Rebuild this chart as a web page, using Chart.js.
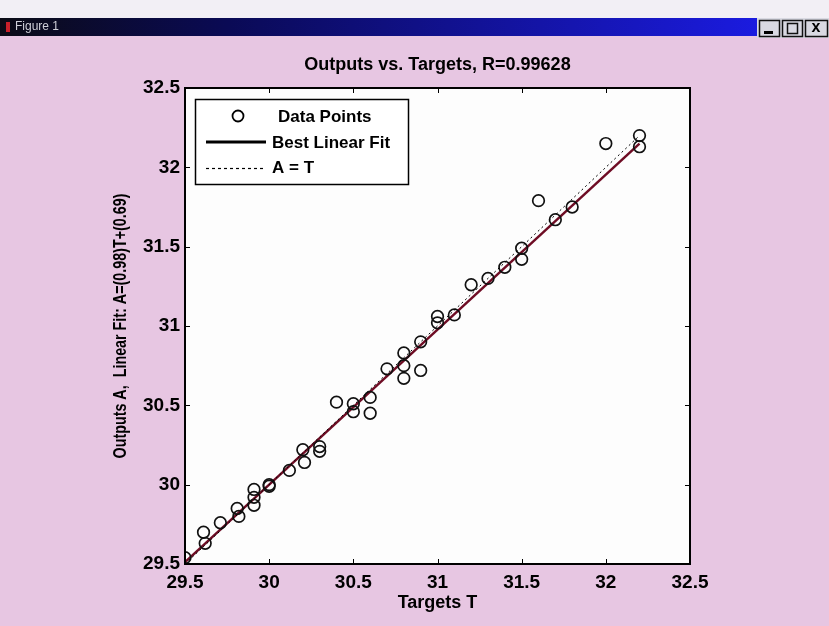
<!DOCTYPE html>
<html>
<head>
<meta charset="utf-8">
<title>Outputs vs. Targets</title>
<script src="https://cdn.jsdelivr.net/npm/chart.js@4.4.1/dist/chart.umd.min.js"></script>
<style>
  html, body { margin: 0; padding: 0; background: #e7c6e2; }
  #wrap { width: 829px; height: 626px; }
</style>
</head>
<body>
<div id="wrap"><canvas id="regChart" width="829" height="626"></canvas></div>
<script>
// Targets T and network outputs A (one pair per sample)
const targets = [29.50, 29.61, 29.62, 29.71, 29.81, 29.82, 29.91, 29.91, 29.91, 30.00,
                 30.00, 30.12, 30.20, 30.21, 30.30, 30.30, 30.40, 30.50, 30.50, 30.60,
                 30.60, 30.70, 30.80, 30.80, 30.80, 30.90, 30.90, 31.00, 31.00, 31.10,
                 31.20, 31.30, 31.40, 31.50, 31.50, 31.60, 31.70, 31.80, 32.00, 32.20,
                 32.20];
const outputs = [29.54, 29.70, 29.63, 29.76, 29.85, 29.80, 29.97, 29.92, 29.87, 29.99,
                 30.00, 30.09, 30.22, 30.14, 30.24, 30.21, 30.52, 30.51, 30.46, 30.55,
                 30.45, 30.73, 30.83, 30.75, 30.67, 30.72, 30.90, 31.06, 31.02, 31.07,
                 31.26, 31.30, 31.37, 31.49, 31.42, 31.79, 31.67, 31.75, 32.15, 32.20,
                 32.13];
const tickValues = [29.5, 30, 30.5, 31, 31.5, 32, 32.5];

// regression results
const fitSlope = 0.977;
const fitIntercept = 0.69;
const rValue = 0.99628;

const tMin = Math.min(...targets);
const tMax = Math.max(...targets);

const points = targets.map((t, i) => ({ x: t, y: outputs[i] }));
const fitLine = [tMin, tMax].map(t => ({ x: t, y: fitSlope * t + fitIntercept }));
const identityLine = [tMin, tMax].map(t => ({ x: t, y: t }));

const FONT = "'Liberation Sans', Arial, Helvetica, sans-serif";

// window chrome, axes box, inward ticks, legend and labels
const figureFrame = {
  id: 'figureFrame',
  beforeDraw(chart) {
    const ctx = chart.ctx;
    const a = chart.chartArea;
    const W = chart.width, H = chart.height;
    ctx.save();
    ctx.fillStyle = '#e7c6e2';
    ctx.fillRect(0, 0, W, H);

    // strip above the title bar
    ctx.fillStyle = '#f2eff5';
    ctx.fillRect(0, 0, W, 18);

    // title bar
    const g = ctx.createLinearGradient(0, 0, 760, 0);
    g.addColorStop(0, '#0b0b16');
    g.addColorStop(0.3, '#0a0a55');
    g.addColorStop(1, '#1b1be0');
    ctx.fillStyle = g;
    ctx.fillRect(0, 18, W, 18);
    ctx.fillStyle = '#c8202a';
    ctx.fillRect(6, 22, 4, 10);
    ctx.fillStyle = '#cfcfd8';
    ctx.font = '12px ' + FONT;
    ctx.textBaseline = 'middle';
    ctx.textAlign = 'left';
    ctx.fillText('Figure 1', 15, 27);

    // window buttons
    ctx.fillStyle = '#d9d9e2';
    ctx.fillRect(757, 18, W - 757, 20);
    ctx.strokeStyle = '#111';
    ctx.lineWidth = 1.5;
    ctx.strokeRect(759.5, 20.5, 20, 16);
    ctx.strokeRect(782.5, 20.5, 20, 16);
    ctx.strokeRect(805.5, 20.5, 22, 16);
    ctx.fillStyle = '#000';
    ctx.fillRect(764, 31, 9, 3);
    ctx.strokeRect(787.5, 23.5, 10, 10);
    ctx.font = 'bold 16px ' + FONT;
    ctx.textAlign = 'center';
    ctx.fillText('x', 816, 28);

    // plot area
    ctx.fillStyle = '#fdfdfd';
    ctx.fillRect(a.left, a.top, a.right - a.left, a.bottom - a.top);
    ctx.restore();
  },
  afterDatasetsDraw(chart) {
    const ctx = chart.ctx;
    const a = chart.chartArea;
    const xs = chart.scales.x, ys = chart.scales.y;
    ctx.save();

    // axes box
    ctx.strokeStyle = '#000';
    ctx.lineWidth = 2;
    ctx.strokeRect(a.left, a.top, a.right - a.left, a.bottom - a.top);

    // ticks pointing into the box
    ctx.lineWidth = 1;
    ctx.beginPath();
    tickValues.forEach(v => {
      const px = Math.round(xs.getPixelForValue(v)) + 0.5;
      ctx.moveTo(px, a.bottom); ctx.lineTo(px, a.bottom - 5);
      ctx.moveTo(px, a.top); ctx.lineTo(px, a.top + 5);
      const py = Math.round(ys.getPixelForValue(v)) + 0.5;
      ctx.moveTo(a.left, py); ctx.lineTo(a.left + 5, py);
      ctx.moveTo(a.right, py); ctx.lineTo(a.right - 5, py);
    });
    ctx.stroke();

    // legend
    const lx = 195, ly = 99, lw = 213, lh = 85;
    ctx.fillStyle = '#fff';
    ctx.fillRect(lx, ly, lw, lh);
    ctx.lineWidth = 1.5;
    ctx.strokeRect(lx + 0.5, ly + 0.5, lw, lh);

    ctx.lineWidth = 1.8;
    ctx.beginPath();
    ctx.arc(238, 116, 5.5, 0, Math.PI * 2);
    ctx.stroke();

    ctx.lineWidth = 3;
    ctx.beginPath();
    ctx.moveTo(206, 142); ctx.lineTo(266, 142);
    ctx.stroke();

    ctx.lineWidth = 1.2;
    ctx.setLineDash([3, 3]);
    ctx.beginPath();
    ctx.moveTo(206, 168.5); ctx.lineTo(266, 168.5);
    ctx.stroke();
    ctx.setLineDash([]);

    ctx.fillStyle = '#000';
    ctx.font = 'bold 17px ' + FONT;
    ctx.textAlign = 'left';
    ctx.textBaseline = 'middle';
    ctx.fillText('Data Points', 278, 117);
    ctx.fillText('Best Linear Fit', 272, 143);
    ctx.fillText('A = T', 272, 168);

    // title
    const cx = (a.left + a.right) / 2;
    ctx.font = 'bold 18px ' + FONT;
    ctx.textAlign = 'center';
    ctx.fillText('Outputs vs. Targets, R=' + rValue.toFixed(5), cx, 65);

    // x axis label
    ctx.fillText('Targets T', cx, 603);

    // y axis label, squeezed along its length
    const yLabel = 'Outputs A,  Linear Fit: A=(' + fitSlope.toFixed(2) + ')T+(' + fitIntercept.toFixed(2) + ')';
    const w = ctx.measureText(yLabel).width;
    ctx.translate(121, (a.top + a.bottom) / 2);
    ctx.rotate(-Math.PI / 2);
    ctx.scale(265 / w, 1);
    ctx.fillText(yLabel, 0, 0);
    ctx.restore();
  }
};

const ctx = document.getElementById('regChart').getContext('2d');
const regChart = new Chart(ctx, {
  type: 'scatter',
  data: {
    datasets: [
      {
        label: 'A = T',
        data: identityLine,
        showLine: true,
        borderColor: '#000',
        borderWidth: 1,
        borderDash: [2, 3],
        pointRadius: 0,
        order: 0
      },
      {
        label: 'Data Points',
        data: points,
        pointStyle: 'circle',
        pointRadius: 5.8,
        pointBorderWidth: 1.7,
        pointBorderColor: '#111',
        pointBackgroundColor: 'rgba(0,0,0,0)',
        order: 1
      },
      {
        label: 'Best Linear Fit',
        data: fitLine,
        showLine: true,
        borderColor: '#6e0c24',
        borderWidth: 2.5,
        pointRadius: 0,
        order: 2
      }
    ]
  },
  options: {
    responsive: false,
    animation: false,
    devicePixelRatio: 1,
    layout: { padding: { left: 0, right: 139, top: 88, bottom: 22 } },
    plugins: {
      legend: { display: false },
      tooltip: { enabled: false }
    },
    scales: {
      x: {
        type: 'linear',
        min: 29.5,
        max: 32.5,
        afterBuildTicks: s => { s.ticks = tickValues.map(v => ({ value: v })); },
        afterFit: s => { s.height = 40; },
        grid: { display: false, drawTicks: false, tickLength: 0 },
        border: { display: false },
        ticks: {
          padding: 7,
          color: '#000',
          font: { family: FONT, size: 19, weight: 'bold' },
          maxRotation: 0,
          callback: v => String(v)
        }
      },
      y: {
        type: 'linear',
        min: 29.5,
        max: 32.5,
        afterBuildTicks: s => { s.ticks = tickValues.map(v => ({ value: v })); },
        afterFit: s => { s.width = 185; },
        grid: { display: false, drawTicks: false, tickLength: 0 },
        border: { display: false },
        ticks: {
          padding: 5,
          color: '#000',
          font: { family: FONT, size: 19, weight: 'bold' },
          callback: v => String(v)
        }
      }
    }
  },
  plugins: [figureFrame]
});
</script>
</body>
</html>
